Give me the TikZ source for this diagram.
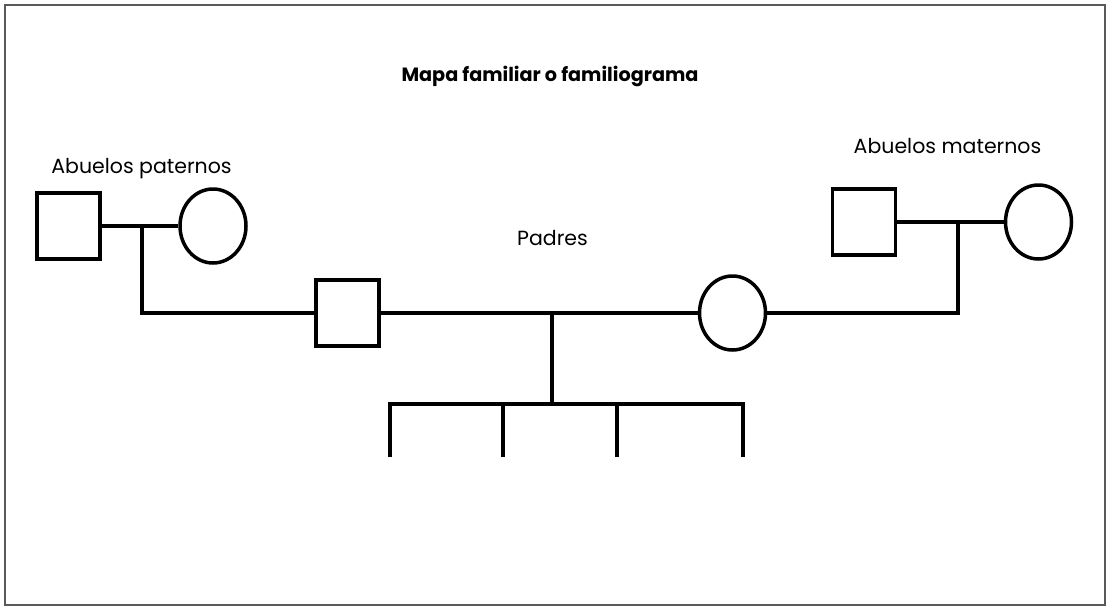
\documentclass[tikz,border=0pt]{standalone}
\usepackage{fontspec}
\setmainfont{Poppins}
\usetikzlibrary{shapes.geometric}
\begin{document}
\begin{tikzpicture}[x=1pt,y=-1pt,
  line width=3.5pt,
  male/.style={draw,rectangle,minimum width=63pt,minimum height=66pt,inner sep=0pt},
  female/.style={draw,ellipse,minimum width=66pt,minimum height=74pt,inner sep=0pt},
  lbl/.style={anchor=base,inner sep=0pt,font=\fontsize{20.5}{24}\selectfont},
  ttl/.style={anchor=base,inner sep=0pt,font=\fontsize{19.2}{23}\selectfont\bfseries},
  link/.style={line width=3.2pt}]
\useasboundingbox (0,0) rectangle (1108,608);
\draw[line width=1.8pt,draw=black!65] (5,5) rectangle (1105,605);
% titles
\node[ttl] (title) at (550,81) {Mapa familiar o familiograma};
\node[lbl] (lp) at (141.5,173) {Abuelos paternos};
\node[lbl] (lm) at (947.5,153) {Abuelos maternos};
\node[lbl] (lpad) at (552.5,245) {Padres};
% persons
\node[male] (pgf) at (68.5,226) {};
\node[female] (pgm) at (213,226) {};
\node[male] (mgf) at (864,222) {};
\node[female] (mgm) at (1038.5,222) {};
\node[male] (fa) at (347.5,313) {};
\node[female] (mo) at (732.5,313) {};
% junctions
\coordinate (pj) at (142,226);
\coordinate (mj) at (958,222);
\coordinate (cj) at (552,313);
\coordinate (cb) at (552,404);
\coordinate (t1) at (390,404);
\coordinate (t4) at (743,404);
\coordinate (t2) at (503,404);
\coordinate (t3) at (617,404);
\coordinate (b1) at (390,457);
\coordinate (b2) at (503,457);
\coordinate (b3) at (617,457);
\coordinate (b4) at (743,457);
% connectors
\draw[link] (pgf) -- (pgm);
\draw[link] (mgf) -- (mgm);
\draw[link] (pj) |- (fa.west);
\draw[link] (mj) |- (mo.east);
\draw[link] (fa) -- (mo);
\draw[link] (cj) -- (cb);
\draw[link] (b1) -- (t1) -- (t4) -- (b4);
\draw[link] (t2) -- (b2);
\draw[link] (t3) -- (b3);
\end{tikzpicture}
\end{document}
